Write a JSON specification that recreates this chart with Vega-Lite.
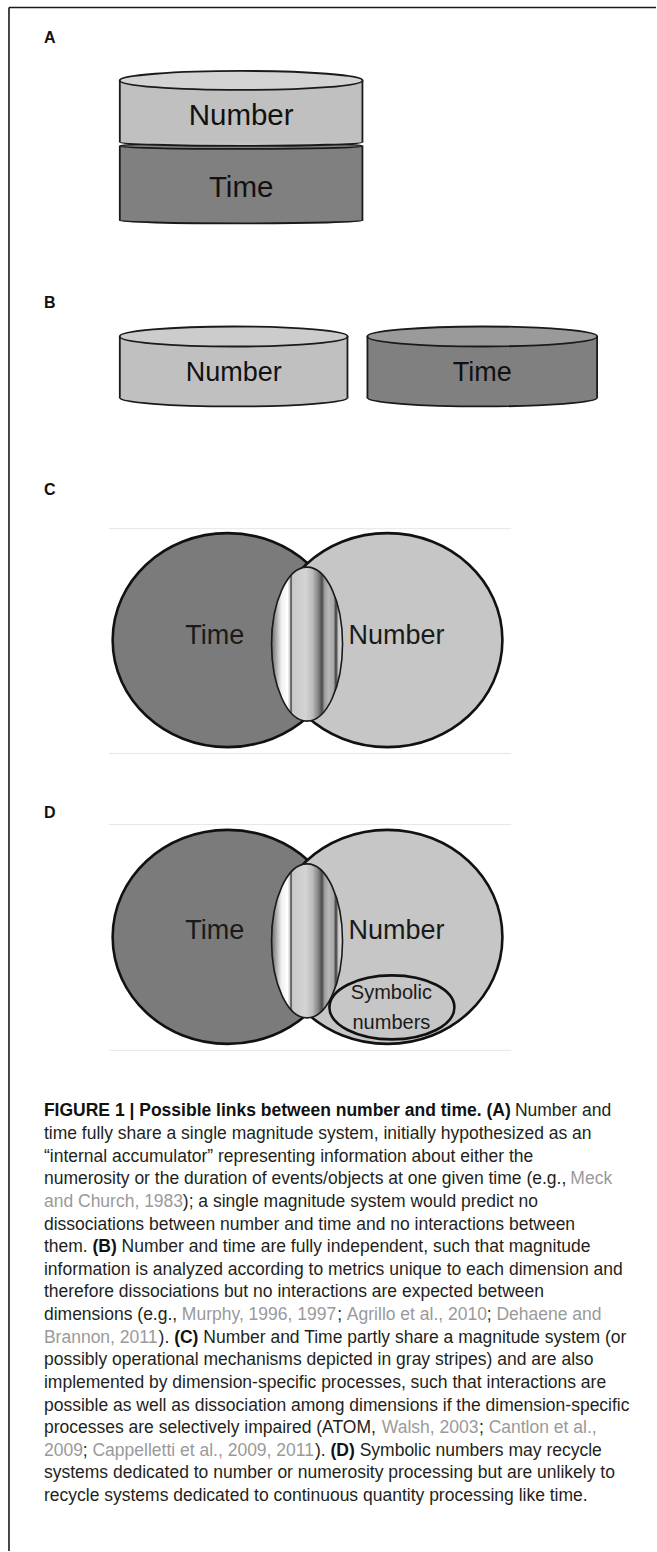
{
  "$schema": "https://vega.github.io/schema/vega-lite/v6.json",
  "width": 657,
  "height": 1552,
  "autosize": {"type": "fit", "contains": "padding"},
  "padding": 0,
  "background": "#ffffff",
  "config": {"view": {"stroke": null}},
  "datasets": {
    "frame": [{"x": 9, "y": 7.5, "x2": 657, "y2": 7.5}, {"x": 9, "y": 7.5, "x2": 9, "y2": 1552}],
    "panelLabels": [{"x": 44, "y": 43.5, "text": "A"}, {"x": 44, "y": 308.5, "text": "B"}, {"x": 44, "y": 495.5, "text": "C"}, {"x": 44, "y": 818.5, "text": "D"}],
    "timeBottomA": [{"x": 241.5, "y": 220.5}],
    "timeBottomB": [{"x": 483, "y": 397.7}],
    "timeBodies": [{"x": 120, "x2": 363, "y": 146, "y2": 220.5}, {"x": 368, "x2": 598, "y": 336.7, "y2": 397.7}],
    "timeTopA": [{"x": 241.5, "y": 146}],
    "timeTopB": [{"x": 483, "y": 336.7}],
    "numberBottomA": [{"x": 241.5, "y": 142}],
    "numberBottomB": [{"x": 234, "y": 397.7}],
    "numberBodies": [{"x": 120, "x2": 363, "y": 80.5, "y2": 142}, {"x": 120, "x2": 348, "y": 336.7, "y2": 397.7}],
    "numberTopA": [{"x": 241.5, "y": 80.5}],
    "numberTopB": [{"x": 234, "y": 336.7}],
    "sides": [
      {"x": 120, "y": 80.5, "y2": 142}, {"x": 363, "y": 80.5, "y2": 142},
      {"x": 120, "y": 146, "y2": 220.5}, {"x": 363, "y": 146, "y2": 220.5},
      {"x": 120, "y": 336.7, "y2": 397.7}, {"x": 348, "y": 336.7, "y2": 397.7},
      {"x": 368, "y": 336.7, "y2": 397.7}, {"x": 598, "y": 336.7, "y2": 397.7}
    ],
    "cylLabelsA": [{"x": 241.5, "y": 125, "text": "Number"}, {"x": 241.5, "y": 197, "text": "Time"}],
    "cylLabelsB": [{"x": 234, "y": 381.7, "text": "Number"}, {"x": 483, "y": 381.7, "text": "Time"}],
    "vennLines": [
      {"x": 109, "x2": 512, "y": 529, "y2": 529}, {"x": 109, "x2": 512, "y": 754, "y2": 754},
      {"x": 109, "x2": 512, "y": 825, "y2": 825}, {"x": 109, "x2": 512, "y": 1051, "y2": 1051}
    ],
    "vennLeft": [{"x": 228, "y": 640.5}, {"x": 228, "y": 937.5}],
    "vennRight": [{"x": 388, "y": 640.5}, {"x": 388, "y": 937.5}],
    "lens": [{"x": 307.5, "y": 644.5}, {"x": 307.5, "y": 941.5}],
    "symbolic": [{"x": 392.5, "y": 1008}],
    "vennLabels": [{"x": 215, "y": 644, "text": "Time"}, {"x": 397, "y": 644, "text": "Number"}, {"x": 215, "y": 940, "text": "Time"}, {"x": 397, "y": 940, "text": "Number"}],
    "symLabels": [{"x": 392, "y": 1000, "text": "Symbolic"}, {"x": 392, "y": 1030, "text": "numbers"}],
    "caption": [
      {"x": 44, "y": 1117.0, "kind": "bold", "text": "FIGURE 1 | Possible links between number and time. (A)"},
      {"x": 515.7, "y": 1117.0, "kind": "normal", "text": "Number and"},
      {"x": 44, "y": 1139.7, "kind": "normal", "text": "time fully share a single magnitude system, initially hypothesized as an"},
      {"x": 44, "y": 1162.3, "kind": "normal", "text": "“internal accumulator” representing information about either the"},
      {"x": 44, "y": 1185.0, "kind": "normal", "text": "numerosity or the duration of events/objects at one given time (e.g.,"},
      {"x": 571.2, "y": 1185.0, "kind": "cite", "text": "Meck"},
      {"x": 44, "y": 1207.6, "kind": "cite", "text": "and Church, 1983"},
      {"x": 183.1, "y": 1207.6, "kind": "normal", "text": "); a single magnitude system would predict no"},
      {"x": 44, "y": 1230.3, "kind": "normal", "text": "dissociations between number and time and no interactions between"},
      {"x": 44, "y": 1252.9, "kind": "normal", "text": "them."},
      {"x": 92.6, "y": 1252.9, "kind": "bold", "text": "(B)"},
      {"x": 121.8, "y": 1252.9, "kind": "normal", "text": "Number and time are fully independent, such that magnitude"},
      {"x": 44, "y": 1275.6, "kind": "normal", "text": "information is analyzed according to metrics unique to each dimension and"},
      {"x": 44, "y": 1298.2, "kind": "normal", "text": "therefore dissociations but no interactions are expected between"},
      {"x": 44, "y": 1320.9, "kind": "normal", "text": "dimensions (e.g.,"},
      {"x": 182.1, "y": 1320.9, "kind": "cite", "text": "Murphy, 1996, 1997"},
      {"x": 337.7, "y": 1320.9, "kind": "normal", "text": ";"},
      {"x": 347.4, "y": 1320.9, "kind": "cite", "text": "Agrillo et al., 2010"},
      {"x": 487.5, "y": 1320.9, "kind": "normal", "text": ";"},
      {"x": 497.2, "y": 1320.9, "kind": "cite", "text": "Dehaene and"},
      {"x": 44, "y": 1343.5, "kind": "cite", "text": "Brannon, 2011"},
      {"x": 158.8, "y": 1343.5, "kind": "normal", "text": ")."},
      {"x": 174.4, "y": 1343.5, "kind": "bold", "text": "(C)"},
      {"x": 203.6, "y": 1343.5, "kind": "normal", "text": "Number and Time partly share a magnitude system (or"},
      {"x": 44, "y": 1366.2, "kind": "normal", "text": "possibly operational mechanisms depicted in gray stripes) and are also"},
      {"x": 44, "y": 1388.8, "kind": "normal", "text": "implemented by dimension-specific processes, such that interactions are"},
      {"x": 44, "y": 1411.5, "kind": "normal", "text": "possible as well as dissociation among dimensions if the dimension-specific"},
      {"x": 44, "y": 1434.1, "kind": "normal", "text": "processes are selectively impaired (ATOM,"},
      {"x": 382.4, "y": 1434.1, "kind": "cite", "text": "Walsh, 2003"},
      {"x": 479.7, "y": 1434.1, "kind": "normal", "text": ";"},
      {"x": 489.4, "y": 1434.1, "kind": "cite", "text": "Cantlon et al.,"},
      {"x": 44, "y": 1456.8, "kind": "cite", "text": "2009"},
      {"x": 82.9, "y": 1456.8, "kind": "normal", "text": ";"},
      {"x": 92.6, "y": 1456.8, "kind": "cite", "text": "Cappelletti et al., 2009, 2011"},
      {"x": 315.4, "y": 1456.8, "kind": "normal", "text": ")."},
      {"x": 331.0, "y": 1456.8, "kind": "bold", "text": "(D)"},
      {"x": 360.2, "y": 1456.8, "kind": "normal", "text": "Symbolic numbers may recycle"},
      {"x": 44, "y": 1479.4, "kind": "normal", "text": "systems dedicated to number or numerosity processing but are unlikely to"},
      {"x": 44, "y": 1502.1, "kind": "normal", "text": "recycle systems dedicated to continuous quantity processing like time."}
    ]
  },
  "encoding": {
    "x": {"field": "x", "type": "quantitative", "scale": {"domain": [0, 657], "nice": false, "zero": false}, "axis": null},
    "y": {"field": "y", "type": "quantitative", "scale": {"domain": [0, 1552], "nice": false, "zero": false, "reverse": true}, "axis": null}
  },
  "layer": [
    {"data": {"name": "frame"}, "mark": {"type": "rule", "color": "#1a1a1a", "strokeWidth": 1.6}, "encoding": {"x2": {"field": "x2"}, "y2": {"field": "y2"}}},
    {"data": {"name": "panelLabels"}, "mark": {"type": "text", "align": "left", "baseline": "alphabetic", "font": "Liberation Sans", "fontWeight": "bold", "fontSize": 16, "color": "#111111"}, "encoding": {"text": {"field": "text"}}},

    {"data": {"name": "timeBottomA"}, "mark": {"type": "point", "shape": "M-1,0C-1,-0.0136 -0.5523,-0.0247 0,-0.0247C0.5523,-0.0247 1,-0.0136 1,0C1,0.0136 0.5523,0.0247 0,0.0247C-0.5523,0.0247 -1,0.0136 -1,0Z", "size": 59049, "filled": true, "fill": "#808080", "stroke": "#1a1a1a", "strokeWidth": 1.8, "opacity": 1}},
    {"data": {"name": "timeBottomB"}, "mark": {"type": "point", "shape": "M-1,0C-1,-0.0432 -0.5523,-0.0783 0,-0.0783C0.5523,-0.0783 1,-0.0432 1,0C1,0.0432 0.5523,0.0783 0,0.0783C-0.5523,0.0783 -1,0.0432 -1,0Z", "size": 52900, "filled": true, "fill": "#808080", "stroke": "#1a1a1a", "strokeWidth": 1.8, "opacity": 1}},
    {"data": {"name": "timeBodies"}, "mark": {"type": "rect", "fill": "#808080", "strokeWidth": 0}, "encoding": {"x2": {"field": "x2"}, "y2": {"field": "y2"}}},
    {"data": {"name": "timeTopA"}, "mark": {"type": "point", "shape": "M-1,0C-1,-0.0136 -0.5523,-0.0247 0,-0.0247C0.5523,-0.0247 1,-0.0136 1,0C1,0.0136 0.5523,0.0247 0,0.0247C-0.5523,0.0247 -1,0.0136 -1,0Z", "size": 59049, "filled": true, "fill": "#858585", "stroke": "#1a1a1a", "strokeWidth": 1.8, "opacity": 1}},
    {"data": {"name": "timeTopB"}, "mark": {"type": "point", "shape": "M-1,0C-1,-0.048 -0.5523,-0.087 0,-0.087C0.5523,-0.087 1,-0.048 1,0C1,0.048 0.5523,0.087 0,0.087C-0.5523,0.087 -1,0.048 -1,0Z", "size": 52900, "filled": true, "fill": "#9a9a9a", "stroke": "#1a1a1a", "strokeWidth": 1.8, "opacity": 1}},

    {"data": {"name": "numberBottomA"}, "mark": {"type": "point", "shape": "M-1,0C-1,-0.0182 -0.5523,-0.0329 0,-0.0329C0.5523,-0.0329 1,-0.0182 1,0C1,0.0182 0.5523,0.0329 0,0.0329C-0.5523,0.0329 -1,0.0182 -1,0Z", "size": 59049, "filled": true, "fill": "#c4c4c4", "stroke": "#1a1a1a", "strokeWidth": 1.8, "opacity": 1}},
    {"data": {"name": "numberBottomB"}, "mark": {"type": "point", "shape": "M-1,0C-1,-0.0436 -0.5523,-0.0789 0,-0.0789C0.5523,-0.0789 1,-0.0436 1,0C1,0.0436 0.5523,0.0789 0,0.0789C-0.5523,0.0789 -1,0.0436 -1,0Z", "size": 51984, "filled": true, "fill": "#c0c0c0", "stroke": "#1a1a1a", "strokeWidth": 1.8, "opacity": 1}},
    {"data": {"name": "numberBodies"}, "mark": {"type": "rect", "fill": "#c0c0c0", "strokeWidth": 0}, "encoding": {"x2": {"field": "x2"}, "y2": {"field": "y2"}}},
    {"data": {"name": "numberTopA"}, "mark": {"type": "point", "shape": "M-1,0C-1,-0.0432 -0.5523,-0.0782 0,-0.0782C0.5523,-0.0782 1,-0.0432 1,0C1,0.0432 0.5523,0.0782 0,0.0782C-0.5523,0.0782 -1,0.0432 -1,0Z", "size": 59049, "filled": true, "fill": "#d3d3d3", "stroke": "#1a1a1a", "strokeWidth": 1.8, "opacity": 1}},
    {"data": {"name": "numberTopB"}, "mark": {"type": "point", "shape": "M-1,0C-1,-0.0484 -0.5523,-0.0877 0,-0.0877C0.5523,-0.0877 1,-0.0484 1,0C1,0.0484 0.5523,0.0877 0,0.0877C-0.5523,0.0877 -1,0.0484 -1,0Z", "size": 51984, "filled": true, "fill": "#cccccc", "stroke": "#1a1a1a", "strokeWidth": 1.8, "opacity": 1}},
    {"data": {"name": "sides"}, "mark": {"type": "rule", "color": "#1a1a1a", "strokeWidth": 1.8}, "encoding": {"y2": {"field": "y2"}}},
    {"data": {"name": "cylLabelsA"}, "mark": {"type": "text", "align": "center", "baseline": "alphabetic", "font": "Liberation Sans", "fontSize": 29.5, "color": "#111111"}, "encoding": {"text": {"field": "text"}}},
    {"data": {"name": "cylLabelsB"}, "mark": {"type": "text", "align": "center", "baseline": "alphabetic", "font": "Liberation Sans", "fontSize": 27, "color": "#111111"}, "encoding": {"text": {"field": "text"}}},

    {"data": {"name": "vennLines"}, "mark": {"type": "rule", "color": "#e6e6e6", "strokeWidth": 1}, "encoding": {"x2": {"field": "x2"}, "y2": {"field": "y2"}}},
    {"data": {"name": "vennLeft"}, "mark": {"type": "point", "shape": "M-1,0C-1,-0.5139 -0.5523,-0.9304 0,-0.9304C0.5523,-0.9304 1,-0.5139 1,0C1,0.5139 0.5523,0.9304 0,0.9304C-0.5523,0.9304 -1,0.5139 -1,0Z", "size": 52900, "filled": true, "fill": "#7b7b7b", "stroke": "#111111", "strokeWidth": 2.6, "opacity": 1}},
    {"data": {"name": "vennRight"}, "mark": {"type": "point", "shape": "M-1,0C-1,-0.5139 -0.5523,-0.9304 0,-0.9304C0.5523,-0.9304 1,-0.5139 1,0C1,0.5139 0.5523,0.9304 0,0.9304C-0.5523,0.9304 -1,0.5139 -1,0Z", "size": 52900, "filled": true, "fill": "#c6c6c6", "stroke": "#111111", "strokeWidth": 2.6, "opacity": 1}},
    {"data": {"name": "lens"}, "mark": {"type": "point", "shape": "M-0.461,0C-0.461,-0.5523 -0.2546,-1 0,-1C0.2546,-1 0.461,-0.5523 0.461,0C0.461,0.5523 0.2546,1 0,1C-0.2546,1 -0.461,0.5523 -0.461,0Z", "size": 23716, "filled": true, "opacity": 1, "stroke": "#1a1a1a", "strokeWidth": 1.6,
      "fill": {"gradient": "linear", "x1": 0, "y1": 0, "x2": 1, "y2": 0, "stops": [
        {"offset": 0, "color": "#6a6a6a"},
        {"offset": 0.056, "color": "#a0a0a0"},
        {"offset": 0.14, "color": "#f0f0f0"},
        {"offset": 0.225, "color": "#ffffff"},
        {"offset": 0.254, "color": "#d0d0d0"},
        {"offset": 0.275, "color": "#3c3c3c"},
        {"offset": 0.296, "color": "#c8c8c8"},
        {"offset": 0.479, "color": "#d4d4d4"},
        {"offset": 0.577, "color": "#bcbcbc"},
        {"offset": 0.662, "color": "#808080"},
        {"offset": 0.711, "color": "#4a4a4a"},
        {"offset": 0.746, "color": "#9a9a9a"},
        {"offset": 0.803, "color": "#b8b8b8"},
        {"offset": 0.873, "color": "#a8a8a8"},
        {"offset": 0.908, "color": "#3a3a3a"},
        {"offset": 0.944, "color": "#c8c8c8"},
        {"offset": 1, "color": "#e0e0e0"}
      ]}}},
    {"data": {"name": "symbolic"}, "mark": {"type": "point", "shape": "M-1,0C-1,-0.2828 -0.5523,-0.512 0,-0.512C0.5523,-0.512 1,-0.2828 1,0C1,0.2828 0.5523,0.512 0,0.512C-0.5523,0.512 -1,0.2828 -1,0Z", "size": 15625, "filled": true, "fill": "#c6c6c6", "stroke": "#111111", "strokeWidth": 2.6, "opacity": 1}},
    {"data": {"name": "vennLabels"}, "mark": {"type": "text", "align": "center", "baseline": "alphabetic", "font": "Liberation Sans", "fontSize": 27, "color": "#1a1a1a"}, "encoding": {"text": {"field": "text"}}},
    {"data": {"name": "symLabels"}, "mark": {"type": "text", "align": "center", "baseline": "alphabetic", "font": "Liberation Sans", "fontSize": 20, "color": "#1a1a1a"}, "encoding": {"text": {"field": "text"}}},

    {"data": {"name": "caption"}, "transform": [{"filter": "datum.kind == 'normal'"}], "mark": {"type": "text", "align": "left", "baseline": "alphabetic", "font": "Liberation Sans", "fontSize": 17.5, "color": "#231f20"}, "encoding": {"text": {"field": "text"}}},
    {"data": {"name": "caption"}, "transform": [{"filter": "datum.kind == 'cite'"}], "mark": {"type": "text", "align": "left", "baseline": "alphabetic", "font": "Liberation Sans", "fontSize": 17.5, "color": "#9a9a9a"}, "encoding": {"text": {"field": "text"}}},
    {"data": {"name": "caption"}, "transform": [{"filter": "datum.kind == 'bold'"}], "mark": {"type": "text", "align": "left", "baseline": "alphabetic", "font": "Liberation Sans", "fontSize": 17.5, "fontWeight": "bold", "color": "#111111"}, "encoding": {"text": {"field": "text"}}}
  ]
}
